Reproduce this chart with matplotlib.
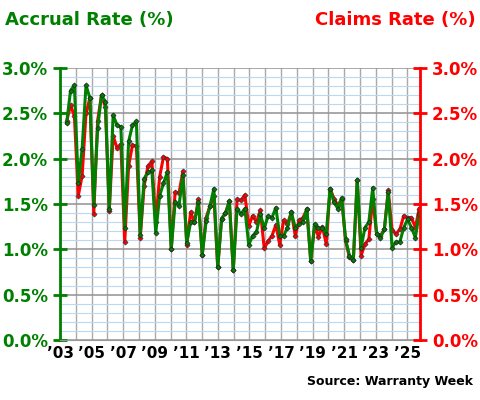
import numpy as np
import matplotlib
matplotlib.use("Agg")
import matplotlib.pyplot as plt
from matplotlib.ticker import MultipleLocator, FuncFormatter

accrual = [2.39,2.75,2.81,1.73,2.11,2.81,2.67,1.49,2.34,2.70,2.63,1.44,2.48,2.37,2.35,1.24,2.19,2.37,2.41,1.16,
           1.78,1.85,1.87,1.18,1.59,1.73,1.85,1.00,1.52,1.48,1.82,1.07,1.30,1.30,1.52,0.94,1.31,1.48,1.67,0.80,
           1.34,1.40,1.53,0.77,
           1.45,1.39,1.45,1.05,1.15,1.19,1.39,1.23,1.37,1.35,1.46,1.15,1.15,1.24,1.41,1.24,1.28,1.30,1.45,0.87,
           1.28,1.24,1.23,1.17,1.67,1.52,1.45,1.57,1.11,0.93,0.88,1.77,1.02,1.24,1.30,1.68,1.17,1.13,1.22,1.63,
           1.02,1.08,1.08,1.24,1.33,1.24,1.13,1.39]
claims = [2.41,2.59,2.47,1.59,1.81,2.50,2.67,1.39,2.42,2.70,2.57,1.42,2.25,2.12,2.16,1.08,1.92,2.15,2.14,1.13,
          1.70,1.92,1.97,1.30,1.80,2.02,2.00,1.00,1.63,1.62,1.86,1.05,1.41,1.30,1.55,0.94,1.35,1.48,1.59,0.80,
          1.34,1.40,1.53,0.77,
          1.55,1.54,1.60,1.26,1.37,1.30,1.43,1.01,1.09,1.15,1.27,1.05,1.32,1.28,1.41,1.15,1.32,1.35,1.44,0.87,
          1.26,1.14,1.25,1.06,1.67,1.56,1.48,1.56,1.09,0.91,0.88,1.76,0.93,1.06,1.11,1.56,1.17,1.15,1.22,1.65,
          1.21,1.17,1.22,1.37,1.35,1.35,1.24,1.45]
x = np.linspace(2003.42, 2025.75, len(accrual))
tick_years = list(range(2003, 2026, 2))
tick_labels = ["\u2019%02d" % (y % 100) for y in tick_years]

fig = plt.figure(figsize=(4.8, 4.0), dpi=100)
ax = fig.add_axes([0.125, 0.15, 0.75, 0.68])
ax.set_xlim(2003.3, 2025.8)
ax.set_ylim(0, 3)
ax.set_xticks(tick_years)
ax.set_xticklabels(tick_labels, fontweight='bold', fontsize=11)
ax.xaxis.set_minor_locator(MultipleLocator(1))
ax.yaxis.set_major_locator(MultipleLocator(0.5))
ax.yaxis.set_minor_locator(MultipleLocator(0.1))
fmt = FuncFormatter(lambda v, p: "%.1f%%" % v)
ax.yaxis.set_major_formatter(fmt)
ax.grid(which='minor', axis='y', color='#bcd8f0', lw=0.8)
ax.grid(which='major', axis='y', color='#999999', lw=1.2)
ax.grid(which='both', axis='x', color='#aaaaaa', lw=1.0)
ax.set_axisbelow(True)
ax.spines['top'].set_visible(False)
ax.spines['left'].set_color('green'); ax.spines['left'].set_linewidth(2)
ax.spines['right'].set_visible(False)
ax.spines['bottom'].set_color('#999999')
ax.tick_params(axis='y', which='major', colors='green', direction='inout', length=10, width=2,
               labelsize=12)
ax.tick_params(axis='y', which='minor', length=0)
ax.tick_params(axis='x', which='both', length=0, pad=4)
for t in ax.get_yticklabels():
    t.set_fontweight('bold')

ax.plot(x, claims, color='red', lw=2.2, marker='D', ms=2.6, mfc='red', mec='#333333', mew=0.5, zorder=3)
ax.plot(x, accrual, color='green', lw=2.2, marker='D', ms=2.6, mfc='green', mec='#222222', mew=0.5, zorder=4)

ax2 = ax.twinx()
ax2.set_ylim(0, 3)
ax2.yaxis.set_major_locator(MultipleLocator(0.5))
ax2.yaxis.set_major_formatter(fmt)
for s in ['top', 'left', 'bottom']:
    ax2.spines[s].set_visible(False)
ax2.spines['right'].set_color('red'); ax2.spines['right'].set_linewidth(2)
ax2.tick_params(axis='y', colors='red', direction='inout', length=10, width=2, labelsize=12)
for t in ax2.get_yticklabels():
    t.set_fontweight('bold')

fig.text(0.01, 0.95, "Accrual Rate (%)", color='green', fontweight='bold', fontsize=13, va='center')
fig.text(0.99, 0.95, "Claims Rate (%)", color='red', fontweight='bold', fontsize=13, va='center', ha='right')
fig.text(0.985, 0.045, "Source: Warranty Week", color='black', fontweight='bold', fontsize=9, ha='right', va='center')
fig.savefig("out.png", dpi=100)
